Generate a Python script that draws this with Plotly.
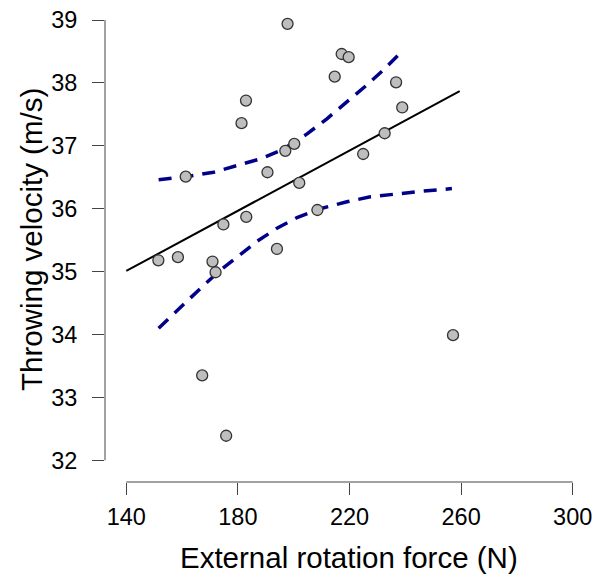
import plotly.graph_objects as go

# Scatter data: external rotation force (N) vs throwing velocity (m/s)
force = [197.8, 217.2, 219.7, 214.7, 182.9, 181.3, 200.2, 197.0, 161.3, 190.6,
         202.0, 208.5, 174.8, 183.0, 236.7, 238.9, 232.6, 224.9, 151.5, 158.5,
         170.9, 172.0, 194.0, 167.2, 175.8, 257.1]
velocity = [38.94, 38.46, 38.41, 38.10, 37.72, 37.36, 37.03, 36.92, 36.51, 36.58,
            36.41, 35.98, 35.75, 35.87, 38.01, 37.61, 37.20, 36.87, 35.18, 35.23,
            35.16, 34.99, 35.36, 33.35, 32.39, 33.99]

# Regression line end points
fit_x = [140.0, 259.5]
fit_y = [35.01, 37.87]

# Confidence band curves
upper_x = [151.6, 161.3, 171.3, 179.7, 188.6, 196.0, 204.8, 211.9, 219.1, 226.3, 232.2, 238.8]
upper_y = [36.46, 36.51, 36.58, 36.68, 36.80, 36.94, 37.19, 37.43, 37.70, 37.97, 38.21, 38.50]
lower_x = [151.6, 159.4, 166.5, 173.1, 179.7, 186.8, 194.0, 201.2, 209.5, 219.1, 227.5, 237.0, 246.6, 256.7]
lower_y = [34.10, 34.44, 34.73, 35.00, 35.23, 35.48, 35.69, 35.86, 36.00, 36.11, 36.19, 36.24, 36.28, 36.32]

x_ticks = [140, 180, 220, 260, 300]
y_ticks = [32, 33, 34, 35, 36, 37, 38, 39]

x_title = "External rotation force (N)"
y_title = "Throwing velocity (m/s)"

FONT = "Liberation Sans, Arial, sans-serif"
AXC = "#444444"

fig = go.Figure()
fig.add_trace(go.Scatter(x=upper_x, y=upper_y, mode="lines",
                         line=dict(color="#00008B", width=3.5, dash="13px,9px"),
                         hoverinfo="skip"))
fig.add_trace(go.Scatter(x=lower_x, y=lower_y, mode="lines",
                         line=dict(color="#00008B", width=3.5, dash="13px,9px"),
                         hoverinfo="skip"))
fig.add_trace(go.Scatter(x=fit_x, y=fit_y, mode="lines",
                         line=dict(color="black", width=2)))
fig.add_trace(go.Scatter(x=force, y=velocity, mode="markers",
                         marker=dict(size=11, color="#BEBEBE",
                                     line=dict(color="#333333", width=1.3))))

# R-style axis lines spanning first to last tick
fig.add_shape(type="line", xref="x", yref="paper", x0=x_ticks[0], x1=x_ticks[-1],
              y0=0, y1=0, line=dict(color=AXC, width=1))
fig.add_shape(type="line", xref="paper", yref="y", x0=0, x1=0,
              y0=y_ticks[0], y1=y_ticks[-1], line=dict(color=AXC, width=1))

fig.add_annotation(text=x_title, xref="paper", yref="paper", x=(0.5 * (126 + 572.5) - 105) / 485,
                   y=0, xanchor="center", yanchor="middle", yshift=-75,
                   showarrow=False, font=dict(size=29.5, family=FONT, color="black"))
fig.add_annotation(text=y_title, xref="paper", yref="paper", x=0, y=(482 - 240) / 478,
                   xanchor="center", yanchor="middle", xshift=-73, textangle=-90,
                   showarrow=False, font=dict(size=29.5, family=FONT, color="black"))

fig.update_layout(
    width=594, height=582,
    margin=dict(l=105, r=4, t=4, b=100),
    paper_bgcolor="white", plot_bgcolor="white",
    showlegend=False,
    font=dict(family=FONT, color="black"),
)
fig.update_xaxes(range=[132.37, 306.2], tickvals=x_ticks, ticks="outside",
                 ticklen=12, tickwidth=1, tickcolor=AXC, showgrid=False,
                 zeroline=False, showline=False, tickfont=dict(size=23.5),
                 ticklabelstandoff=2, automargin=False)
fig.update_yaxes(range=[31.655, 39.255], tickvals=y_ticks, ticks="outside",
                 ticklen=12, tickwidth=1, tickcolor=AXC, showgrid=False,
                 zeroline=False, showline=False, tickfont=dict(size=23.5),
                 ticklabelstandoff=10, automargin=False)

fig.write_html("out.html", config={"displayModeBar": False},
               post_script="document.body.style.margin='0';document.body.style.overflow='hidden';")
